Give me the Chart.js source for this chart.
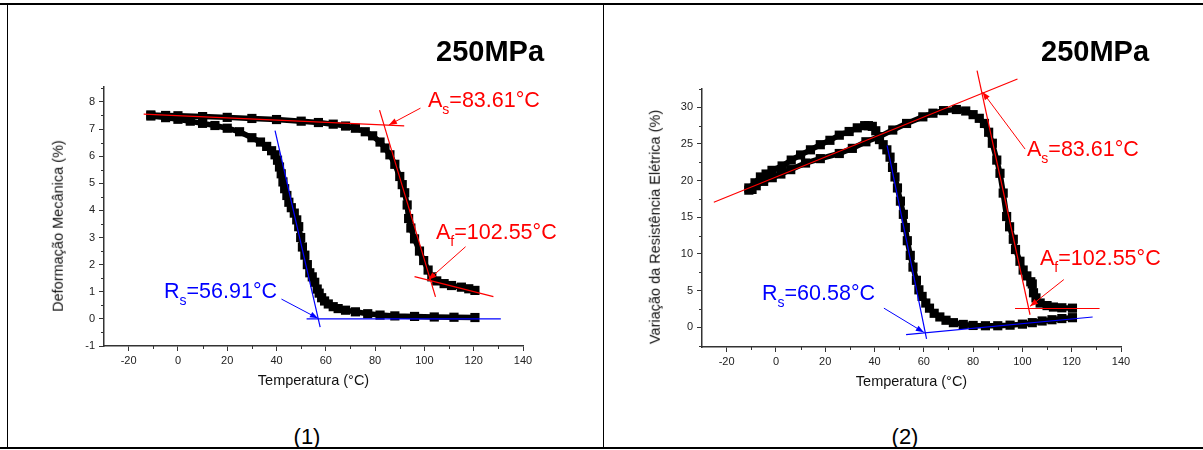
<!DOCTYPE html>
<html lang="pt">
<head>
<meta charset="utf-8">
<script src="https://cdn.jsdelivr.net/npm/chart.js@4.4.1/dist/chart.umd.min.js"></script>
<style>
    html, body { margin: 0; padding: 0; background: #fff; }
    body { width: 1203px; height: 450px; position: relative; overflow: hidden; font-family: "Liberation Sans", Arial, sans-serif; color: #000; }
    .rule { position: absolute; background: #000; }
    canvas { position: absolute; top: 8px; }
    .txt { position: absolute; white-space: nowrap; line-height: 1; }
    .big { font-size: 29px; font-weight: bold; }
    .ann { font-size: 21.5px; }
    .ann sub { font-size: 14px; vertical-align: baseline; position: relative; top: 7px; line-height: 1; }
    .red { color: #ff0000; }
    .blue { color: #0000ff; }
    .ytitle { font-size: 14.5px; color: #111; transform: translate(-50%, -50%) rotate(-90deg); }
    .num { font-size: 22px; transform: translateX(-50%); }
</style>
</head>
<body>
<div class="rule" style="left:0;top:3px;width:1203px;height:2px"></div>
<div class="rule" style="left:7px;top:4px;width:1px;height:444px"></div>
<div class="rule" style="left:603px;top:4px;width:1px;height:444px"></div>
<div class="rule" style="left:0;top:447px;width:1203px;height:2px"></div>

<canvas id="grafico-deformacao" width="594" height="400" style="left:8px"></canvas>
<canvas id="grafico-resistencia" width="594" height="400" style="left:606px"></canvas>

<div class="txt big" style="left:436px;top:37px">250MPa</div>
<div class="txt big" style="left:1041px;top:37px">250MPa</div>

<div class="txt ytitle" style="left:58px;top:226px">Deformação Mecânica (%)</div>
<div class="txt ytitle" style="left:655px;top:227px">Variação da Resistência Elétrica (%)</div>

<div class="txt ann red" style="left:428px;top:90px">A<sub>s</sub>=83.61°C</div>
<div class="txt ann red" style="left:436px;top:222px">A<sub>f</sub>=102.55°C</div>
<div class="txt ann blue" style="left:164px;top:281px">R<sub>s</sub>=56.91°C</div>
<div class="txt ann red" style="left:1027px;top:139px">A<sub>s</sub>=83.61°C</div>
<div class="txt ann red" style="left:1040px;top:248px">A<sub>f</sub>=102.55°C</div>
<div class="txt ann blue" style="left:762px;top:283px">R<sub>s</sub>=60.58°C</div>

<div class="txt num" style="left:307px;top:426px">(1)</div>
<div class="txt num" style="left:905px;top:426px">(2)</div>

<script>
const FONTE = '"Liberation Sans", Arial, sans-serif';

// eixos
const xTicks = [-20, 0, 20, 40, 60, 80, 100, 120, 140];
const xMinor = [-10, 10, 30, 50, 70, 90, 110, 130];
const y1Ticks = [-1, 0, 1, 2, 3, 4, 5, 6, 7, 8];
const y1Minor = [-0.5, 0.5, 1.5, 2.5, 3.5, 4.5, 5.5, 6.5, 7.5, 8.5];
const y2Ticks = [0, 5, 10, 15, 20, 25, 30];
const y2Minor = [-2.5, 2.5, 7.5, 12.5, 17.5, 22.5, 27.5, 32.5];

// (1) deformação - aquecimento
const aquec1T = [-11, -5, 0, 10, 20, 30, 40, 50, 57, 63, 68, 72, 76, 79, 82, 84, 86, 88, 90, 91, 92, 93, 93.6, 94.5, 96, 98, 99.7, 101.5, 103, 105, 108, 111, 115, 118, 120.5];
const aquec1V = [7.52, 7.5, 7.49, 7.46, 7.43, 7.39, 7.35, 7.29, 7.24, 7.18, 7.11, 7.03, 6.9, 6.75, 6.52, 6.3, 6.05, 5.7, 5.25, 4.95, 4.65, 4.2, 3.7, 3.35, 2.95, 2.5, 2.15, 1.8, 1.55, 1.4, 1.3, 1.23, 1.17, 1.11, 1.05];
// (1) deformação - resfriamento
const resf1T = [120.5, 112, 104, 96, 88, 82, 77, 72, 68, 65, 63, 61, 59.5, 58.3, 57.3, 56.5, 55.5, 54.5, 53.5, 52.5, 51.5, 50.5, 49.8, 49, 48.2, 47.2, 46, 45, 44.2, 43.3, 42.6, 41.9, 41.2, 40.4, 39.4, 38, 36, 33.5, 30, 25, 20, 15, 10, 5, 0, -5, -11];
const resf1V = [0.05, 0.06, 0.07, 0.09, 0.11, 0.14, 0.19, 0.26, 0.32, 0.38, 0.45, 0.55, 0.66, 0.78, 0.95, 1.1, 1.35, 1.55, 1.7, 2.0, 2.35, 2.65, 3.0, 3.4, 3.65, 3.9, 4.1, 4.3, 4.55, 4.8, 5.05, 5.35, 5.6, 5.85, 6.05, 6.2, 6.36, 6.52, 6.68, 6.9, 7.03, 7.13, 7.21, 7.29, 7.36, 7.42, 7.48];

// (1) tangentes
const tan1SupT = [-13.9, 91.8];
const tan1SupV = [7.55, 7.12];
const tan1AquecT = [81.8, 104.5];
const tan1AquecV = [7.7, 0.81];
const tan1InfT = [96, 128];
const tan1InfV = [1.56, 0.82];
const tan1ResfT = [39.4, 57.7];
const tan1ResfV = [6.94, -0.3];
const tan1BaseT = [52.2, 131];
const tan1BaseV = [0, 0];

// (2) resistência - aquecimento
const aquec2T = [-11, -9.7, -8, -5, -1.5, 2, 6, 12, 18, 25.7, 31, 36.5, 42, 47.4, 53, 59.6, 63.7, 68, 73.2, 77, 80, 82.5, 84.6, 86.3, 87.8, 89.6, 90.9, 92.2, 93.6, 94.8, 96.3, 97.2, 99, 100.3, 101.8, 103.4, 104, 104.5, 105.5, 107.2, 110, 112.6, 116, 120.3];
const aquec2V = [18.7, 18.8, 19.3, 19.9, 20.4, 20.9, 21.5, 22.4, 23.0, 23.7, 24.4, 25.3, 26.0, 26.9, 27.8, 28.7, 29.2, 29.55, 29.7, 29.5, 29.0, 28.5, 27.8, 26.6, 25.1, 22.8, 21.0, 18.3, 15.1, 13.7, 12.0, 10.6, 9.0, 7.8, 7.0, 6.2, 5.9, 4.7, 4.0, 3.3, 2.95, 2.75, 2.65, 2.6];
// (2) resistência - resfriamento
const resf2T = [120.3, 116, 112, 108, 104, 100, 95, 90, 85, 80, 76, 72, 69, 66.5, 64.2, 62.3, 60.8, 59.3, 58, 57, 55.6, 54.5, 53.3, 52.5, 51.7, 50.5, 49.3, 48.3, 47.3, 46.3, 45, 43.5, 42, 40.5, 39.1, 37.5, 36, 33, 29.7, 25.7, 21.9, 18, 14, 10, 6.2, 2.5, -1.6, -4, -6.3, -8.5, -11];
const resf2V = [1.3, 1.18, 1.02, 0.85, 0.62, 0.42, 0.28, 0.2, 0.2, 0.24, 0.38, 0.62, 0.95, 1.4, 1.9, 2.6, 3.3, 4.2, 5.1, 6.4, 8.2, 9.8, 11.8, 13.6, 15.4, 17.2, 19.0, 20.5, 21.8, 23.2, 24.2, 24.9, 25.6, 26.8, 27.4, 27.5, 27.5, 27.2, 26.7, 26.2, 25.5, 24.9, 24.2, 23.5, 22.8, 22.0, 21.4, 20.9, 20.5, 19.7, 19.0];

// (2) tangentes
const tan2SupT = [-25.2, 98];
const tan2SupV = [17.05, 33.86];
const tan2AquecT = [81.6, 103.1];
const tan2AquecV = [35.0, 1.7];
const tan2InfT = [97, 131.3];
const tan2InfV = [2.55, 2.55];
const tan2ResfT = [45.1, 61.1];
const tan2ResfV = [24.8, -1.6];
const tan2BaseT = [52.8, 128.5];
const tan2BaseV = [-1.02, 1.39];

const pontos = (xs, ys) => xs.map((x, i) => ({ x: x, y: ys[i] }));

const serieCurva = (xs, ys) => ({
    data: pontos(xs, ys),
    showLine: true,
    borderColor: '#000',
    backgroundColor: '#000',
    borderWidth: 5.5,
    borderJoinStyle: 'round',
    borderCapStyle: 'round',
    pointStyle: 'rect',
    pointRadius: 2.6,
    pointHoverRadius: 2.6,
    order: 2,
});

const serieTangente = (xs, ys, cor) => ({
    data: pontos(xs, ys),
    showLine: true,
    borderColor: cor,
    borderWidth: 1.2,
    pointRadius: 0,
    pointHoverRadius: 0,
    clip: false,
    order: 1,
});

// marcas menores e setas
const extrasPlugin = {
    id: 'extras',
    afterDatasetsDraw(chart, args, opts) {
        const { ctx, chartArea } = chart;
        const x = chart.scales.x;
        const y = chart.scales.y;
        ctx.save();
        ctx.strokeStyle = '#333';
        ctx.lineWidth = 1;
        ctx.beginPath();
        opts.minorX.forEach(v => {
            const px = Math.round(x.getPixelForValue(v)) + 0.5;
            ctx.moveTo(px, chartArea.bottom);
            ctx.lineTo(px, chartArea.bottom + 3);
        });
        opts.minorY.forEach(v => {
            const py = Math.round(y.getPixelForValue(v)) + 0.5;
            ctx.moveTo(chartArea.left - 3, py);
            ctx.lineTo(chartArea.left, py);
        });
        ctx.stroke();

        opts.setas.forEach(s => {
            const x0 = x.getPixelForValue(s.de[0]), y0 = y.getPixelForValue(s.de[1]);
            const x1 = x.getPixelForValue(s.para[0]), y1 = y.getPixelForValue(s.para[1]);
            const a = Math.atan2(y1 - y0, x1 - x0);
            const L = 8, W = 3;
            ctx.strokeStyle = s.cor;
            ctx.fillStyle = s.cor;
            ctx.lineWidth = 1;
            ctx.beginPath();
            ctx.moveTo(x0, y0);
            ctx.lineTo(x1, y1);
            ctx.stroke();
            ctx.beginPath();
            ctx.moveTo(x1, y1);
            ctx.lineTo(x1 - L * Math.cos(a) + W * Math.sin(a), y1 - L * Math.sin(a) - W * Math.cos(a));
            ctx.lineTo(x1 - L * Math.cos(a) - W * Math.sin(a), y1 - L * Math.sin(a) + W * Math.cos(a));
            ctx.closePath();
            ctx.fill();
        });
        ctx.restore();
    }
};

function desenharGrafico(canvasId, datasets, yMin, yMax, yTicks, yMinor, padding, setas) {
    return new Chart(document.getElementById(canvasId), {
        type: 'scatter',
        data: { datasets: datasets },
        plugins: [extrasPlugin],
        options: {
            responsive: false,
            animation: false,
            events: [],
            layout: { padding: padding },
            plugins: {
                legend: { display: false },
                tooltip: { enabled: false },
                extras: { minorX: xMinor, minorY: yMinor, setas: setas },
            },
            scales: {
                x: {
                    type: 'linear',
                    min: -30,
                    max: 140,
                    afterBuildTicks: s => { s.ticks = xTicks.map(v => ({ value: v })); },
                    afterFit: s => { s.height = 44; },
                    ticks: { color: '#222', font: { size: 11, family: FONTE }, padding: 3, autoSkip: false, maxRotation: 0 },
                    grid: { drawOnChartArea: false, tickLength: 5, tickColor: '#333' },
                    border: { color: '#333', width: 1.5 },
                    title: { display: true, text: 'Temperatura (°C)', color: '#111', font: { size: 14.5, family: FONTE }, padding: 0 },
                },
                y: {
                    type: 'linear',
                    min: yMin,
                    max: yMax,
                    afterBuildTicks: s => { s.ticks = yTicks.map(v => ({ value: v })); },
                    afterFit: s => { s.width = 96; },
                    ticks: { color: '#222', font: { size: 11, family: FONTE }, padding: 4, autoSkip: false },
                    grid: { drawOnChartArea: false, tickLength: 5, tickColor: '#333' },
                    border: { color: '#333', width: 1.5 },
                },
            },
        },
    });
}

desenharGrafico('grafico-deformacao', [
    serieTangente(tan1SupT, tan1SupV, '#ff0000'),
    serieTangente(tan1AquecT, tan1AquecV, '#ff0000'),
    serieTangente(tan1InfT, tan1InfV, '#ff0000'),
    serieTangente(tan1ResfT, tan1ResfV, '#0000ff'),
    serieTangente(tan1BaseT, tan1BaseV, '#0000ff'),
    serieCurva(aquec1T, aquec1V),
    serieCurva(resf1T, resf1V),
], -1, 8.55, y1Ticks, y1Minor, { left: 0, top: 79, right: 79, bottom: 18 }, [
    { de: [98.4, 7.77], para: [85.6, 7.15], cor: '#ff0000' },
    { de: [116.7, 2.66], para: [101.6, 1.44], cor: '#ff0000' },
    { de: [42, 0.73], para: [56.8, 0.02], cor: '#0000ff' },
]);

desenharGrafico('grafico-resistencia', [
    serieTangente(tan2SupT, tan2SupV, '#ff0000'),
    serieTangente(tan2AquecT, tan2AquecV, '#ff0000'),
    serieTangente(tan2InfT, tan2InfV, '#ff0000'),
    serieTangente(tan2ResfT, tan2ResfV, '#0000ff'),
    serieTangente(tan2BaseT, tan2BaseV, '#0000ff'),
    serieCurva(aquec2T, aquec2V),
    serieCurva(resf2T, resf2V),
], -2.7, 32.5, y2Ticks, y2Minor, { left: 0, top: 81, right: 79, bottom: 17 }, [
    { de: [101.1, 24.3], para: [83.8, 32.1], cor: '#ff0000' },
    { de: [116.8, 6.5], para: [103.1, 2.85], cor: '#ff0000' },
    { de: [43.8, 2.6], para: [60, -0.7], cor: '#0000ff' },
]);
</script>
</body>
</html>
